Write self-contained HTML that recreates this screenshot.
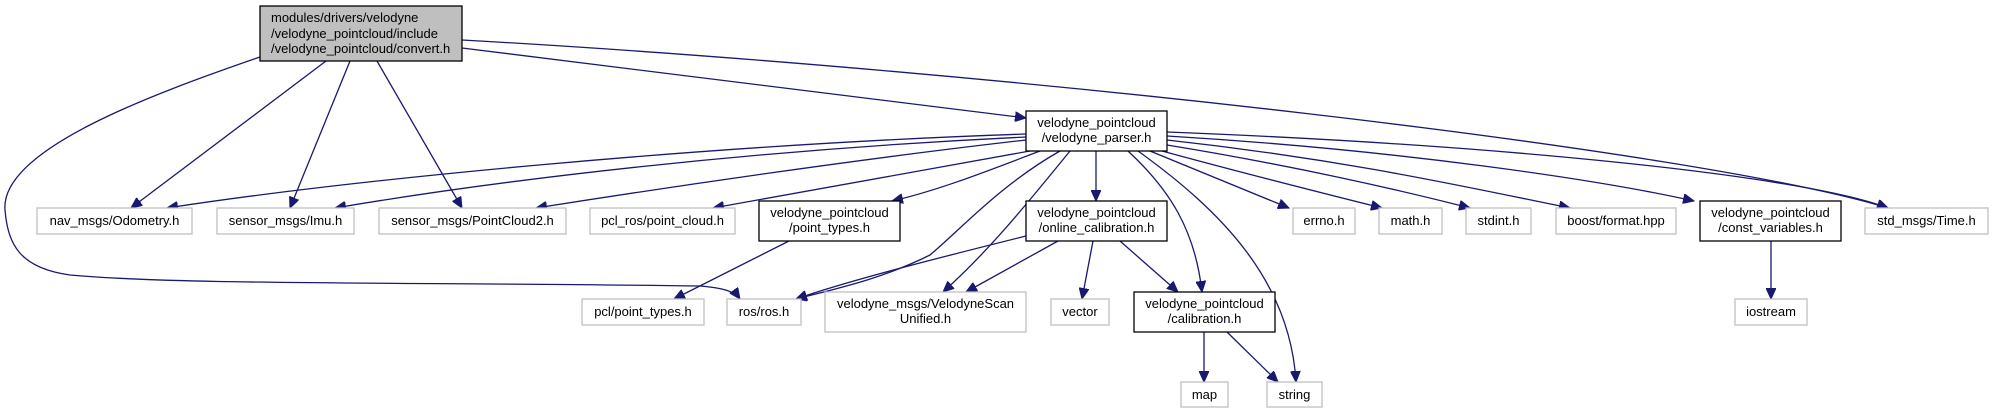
<!DOCTYPE html>
<html><head><meta charset="utf-8"><style>
html,body{margin:0;padding:0;background:#fff;}
svg{display:block;}
text{font-family:"Liberation Sans",sans-serif;font-size:13px;fill:#000;}
.g{fill:#fff;stroke:#bfbfbf;stroke-width:1.3;}
.b{fill:#fff;stroke:#000;stroke-width:1.3;}
.e{fill:none;stroke:#191970;stroke-width:1.3;}
</style></head><body>
<svg width="1994" height="413" viewBox="0 0 1994 413" xmlns="http://www.w3.org/2000/svg">
<defs>
<marker id="a" markerUnits="userSpaceOnUse" markerWidth="12" markerHeight="10" refX="11" refY="5" orient="auto">
<path d="M0,0 L11,5 L0,10 Z" fill="#191970" stroke="#191970"/>
</marker>
</defs>
<g class="e" marker-end="url(#a)">
<path d="M326,61 L131,208"/>
<path d="M350,61 L290,208"/>
<path d="M377,61 L462,208"/>
<path d="M260,57 C150,95 0,150 5,210 C8,245 20,268 70,275 C180,285 400,282 700,286 C725,288 735,292 740,299"/>
<path d="M462,48 L1026,118"/>
<path d="M462,40 C1000,70 1700,150 1888,208"/>
<path d="M1026,134 C700,145 350,180 167,208"/>
<path d="M1026,137 C750,150 500,180 335,208"/>
<path d="M1026,140 C850,160 650,190 536,208"/>
<path d="M1030,151 C900,175 790,195 713,208"/>
<path d="M1040,151 C990,170 940,190 892,201"/>
<path d="M1060,151 C1000,185 960,230 930,255 C880,280 830,290 796,299"/>
<path d="M1070,151 C1030,200 990,250 943,292"/>
<path d="M1096,151 L1096,201"/>
<path d="M1128,151 C1170,190 1195,230 1202,292"/>
<path d="M1138,151 C1220,210 1290,280 1296,382"/>
<path d="M1150,151 L1289,208"/>
<path d="M1162,151 C1250,175 1330,195 1382,208"/>
<path d="M1167,145 C1290,165 1400,190 1470,208"/>
<path d="M1167,140 C1350,160 1480,190 1570,208"/>
<path d="M1167,136 C1400,150 1600,180 1694,201"/>
<path d="M1167,132 C1500,145 1800,175 1888,208"/>
<path d="M789,241 L674,299"/>
<path d="M1026,236 C950,255 850,280 796,299"/>
<path d="M1058,241 L966,292"/>
<path d="M1093,241 L1082,299"/>
<path d="M1120,241 L1178,292"/>
<path d="M1204,332 L1204,382"/>
<path d="M1227,332 L1278,382"/>
<path d="M1771,241 L1771,299"/>
</g>
<rect x="260" y="6" width="202" height="55" fill="#bfbfbf" stroke="#000" stroke-width="1.3"/>
<text x="271" y="22">modules/drivers/velodyne</text>
<text x="271" y="38">/velodyne_pointcloud/include</text>
<text x="271" y="53">/velodyne_pointcloud/convert.h</text>

<rect class="b" x="1026" y="111" width="141" height="40"/>
<text x="1096.5" y="127" text-anchor="middle">velodyne_pointcloud</text>
<text x="1096.5" y="142" text-anchor="middle">/velodyne_parser.h</text>

<rect class="g" x="37" y="208" width="155" height="26"/><text x="114.5" y="225" text-anchor="middle">nav_msgs/Odometry.h</text>
<rect class="g" x="217" y="208" width="137" height="26"/><text x="285.5" y="225" text-anchor="middle">sensor_msgs/Imu.h</text>
<rect class="g" x="379" y="208" width="187" height="26"/><text x="472.5" y="225" text-anchor="middle">sensor_msgs/PointCloud2.h</text>
<rect class="g" x="590" y="208" width="145" height="26"/><text x="662.5" y="225" text-anchor="middle">pcl_ros/point_cloud.h</text>
<rect class="b" x="759" y="201" width="141" height="40"/>
<text x="829.5" y="217" text-anchor="middle">velodyne_pointcloud</text>
<text x="829.5" y="232" text-anchor="middle">/point_types.h</text>
<rect class="b" x="1026" y="201" width="141" height="40"/>
<text x="1096.5" y="217" text-anchor="middle">velodyne_pointcloud</text>
<text x="1096.5" y="232" text-anchor="middle">/online_calibration.h</text>
<rect class="g" x="1293" y="208" width="62" height="26"/><text x="1324" y="225" text-anchor="middle">errno.h</text>
<rect class="g" x="1379" y="208" width="63" height="26"/><text x="1410.5" y="225" text-anchor="middle">math.h</text>
<rect class="g" x="1466" y="208" width="65" height="26"/><text x="1498.5" y="225" text-anchor="middle">stdint.h</text>
<rect class="g" x="1556" y="208" width="120" height="26"/><text x="1616" y="225" text-anchor="middle">boost/format.hpp</text>
<rect class="b" x="1700" y="201" width="141" height="40"/>
<text x="1770.5" y="217" text-anchor="middle">velodyne_pointcloud</text>
<text x="1770.5" y="232" text-anchor="middle">/const_variables.h</text>
<rect class="g" x="1865" y="208" width="123" height="26"/><text x="1926.5" y="225" text-anchor="middle">std_msgs/Time.h</text>

<rect class="g" x="582" y="299" width="122" height="26"/><text x="643" y="316" text-anchor="middle">pcl/point_types.h</text>
<rect class="g" x="727" y="299" width="74" height="26"/><text x="764" y="316" text-anchor="middle">ros/ros.h</text>
<rect class="g" x="825" y="292" width="201" height="40"/>
<text x="925.5" y="308" text-anchor="middle">velodyne_msgs/VelodyneScan</text>
<text x="925.5" y="323" text-anchor="middle">Unified.h</text>
<rect class="g" x="1051" y="299" width="58" height="26"/><text x="1080" y="316" text-anchor="middle">vector</text>
<rect class="b" x="1134" y="292" width="141" height="40"/>
<text x="1204.5" y="308" text-anchor="middle">velodyne_pointcloud</text>
<text x="1204.5" y="323" text-anchor="middle">/calibration.h</text>
<rect class="g" x="1735" y="299" width="72" height="26"/><text x="1771" y="316" text-anchor="middle">iostream</text>

<rect class="g" x="1181" y="382" width="47" height="25"/><text x="1204.5" y="399" text-anchor="middle">map</text>
<rect class="g" x="1267" y="382" width="55" height="25"/><text x="1294.5" y="399" text-anchor="middle">string</text>
</svg>
</body></html>
